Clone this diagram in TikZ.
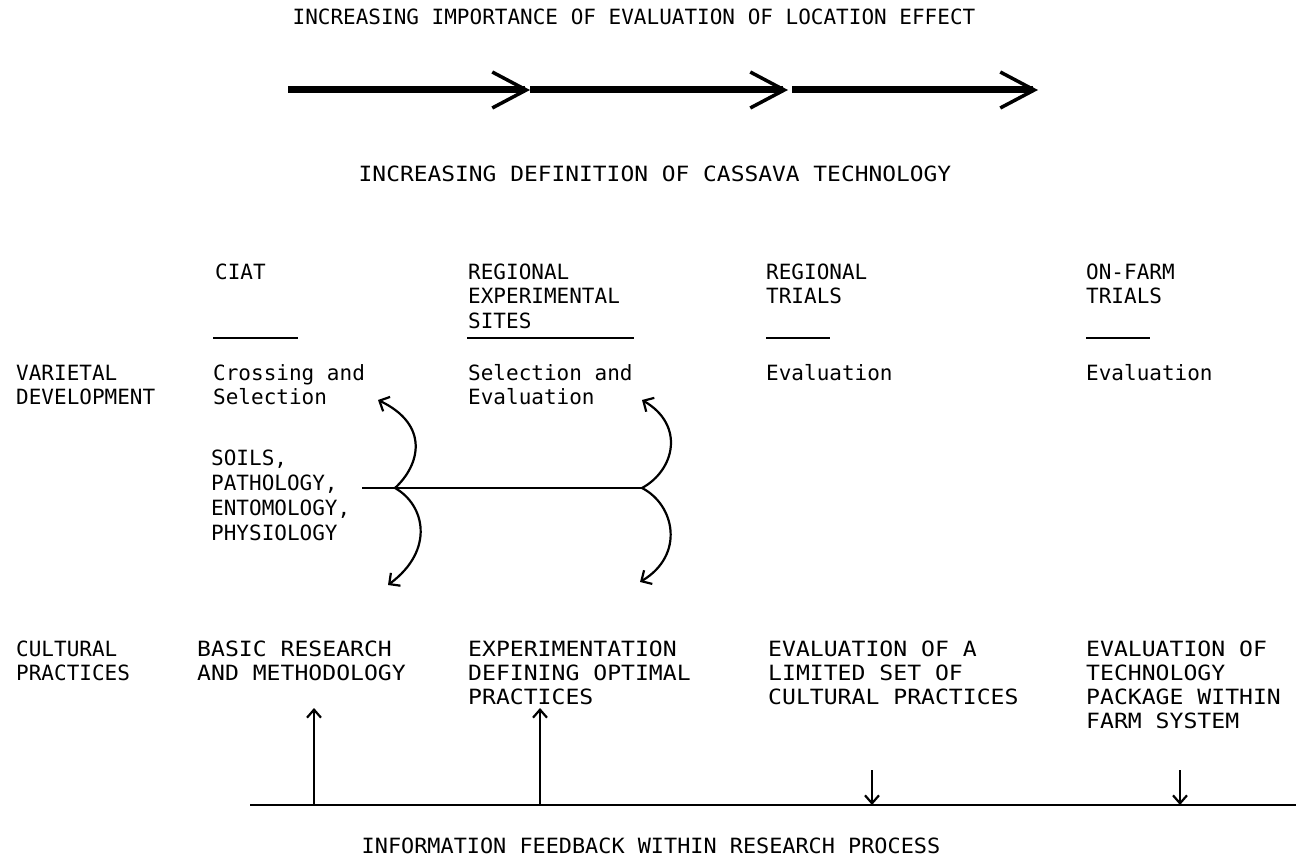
\documentclass[tikz,border=0pt]{standalone}
\usepackage{fontspec}
\setmainfont{DejaVu Sans Mono}
\newfontfamily\stretchA[FakeStretch=1.09]{DejaVu Sans Mono}
\newfontfamily\stretchB[FakeStretch=1.10]{DejaVu Sans Mono}
\newfontfamily\stretchC[FakeStretch=1.04]{DejaVu Sans Mono}
\usetikzlibrary{arrows.meta}
\begin{document}
\begin{tikzpicture}[x=1pt,y=-1pt,
  txt/.style={anchor=north west, align=left, inner sep=0pt, font=\fontsize{21}{24}\selectfont},
  hdr/.style={anchor=north west, align=left, inner sep=0pt, font=\fontsize{21}{24.5}\selectfont},
  disc/.style={anchor=north west, align=left, inner sep=0pt, font=\fontsize{21}{25}\selectfont},
  low/.style={anchor=north west, align=left, inner sep=0pt, font=\stretchB\fontsize{21}{24}\selectfont},
  ttl/.style={anchor=north, inner sep=0pt, font=\fontsize{21}{24}\selectfont},
  ttlw/.style={anchor=north, inner sep=0pt, font=\stretchA\fontsize{21}{24}\selectfont},
  ttlb/.style={anchor=north, inner sep=0pt, font=\stretchC\fontsize{21}{24}\selectfont},
  bigarrow/.style={line width=7pt, -{Straight Barb[length=34pt,width=36pt,line width=3.5pt]}},
  rule/.style={line width=1.5pt},
  link/.style={line width=2.2pt},
  curvearrow/.style={line width=2.2pt, -{Straight Barb[length=8pt,width=16pt,line width=2.2pt]}},
  fbarrow/.style={line width=2.2pt, -{Straight Barb[length=8pt,width=14pt,line width=2.2pt]}}]
\useasboundingbox (0,0) rectangle (1296,866);

% titles
\node[ttl] (t1) at (634,9) {INCREASING IMPORTANCE OF EVALUATION OF LOCATION EFFECT};
\node[ttlw] (t2) at (655,166) {INCREASING DEFINITION OF CASSAVA TECHNOLOGY};

% big arrow
\coordinate (a0) at (288,90);
\coordinate (a1) at (530,90);
\coordinate (a1b) at (530,90);
\coordinate (a2) at (788,90);
\coordinate (a2b) at (792,90);
\coordinate (a3) at (1038,90);
\draw[bigarrow] (a0) -- (a1);
\draw[bigarrow] (a1b) -- (a2);
\draw[bigarrow] (a2b) -- (a3);

% column headers
\node[hdr] (h1) at (215,263.5) {CIAT};
\node[hdr] (h2) at (468,263.5) {REGIONAL\\EXPERIMENTAL\\SITES};
\node[hdr] (h3) at (766,263.5) {REGIONAL\\TRIALS};
\node[hdr] (h4) at (1086,263.5) {ON-FARM\\TRIALS};
\coordinate (u1a) at (213,338); \coordinate (u1b) at (298,338);
\coordinate (u2a) at (467,338); \coordinate (u2b) at (634,338);
\coordinate (u3a) at (766,338); \coordinate (u3b) at (830,338);
\coordinate (u4a) at (1086,338); \coordinate (u4b) at (1150,338);
\draw[rule] (u1a) -- (u1b);
\draw[rule] (u2a) -- (u2b);
\draw[rule] (u3a) -- (u3b);
\draw[rule] (u4a) -- (u4b);

% varietal development row
\node[txt] (r1) at (16,364.5) {VARIETAL\\DEVELOPMENT};
\node[txt] (v1) at (213,364.5) {Crossing and\\Selection};
\node[txt] (v2) at (468,364.5) {Selection and\\Evaluation};
\node[txt] (v3) at (766,364.5) {Evaluation};
\node[txt] (v4) at (1086,364.5) {Evaluation};
\node[disc] (dsc) at (211,450) {SOILS,\\PATHOLOGY,\\ENTOMOLOGY,\\PHYSIOLOGY};

% links
\coordinate (m0) at (362,488);
\coordinate (j1) at (395,488);
\coordinate (j2) at (642,488);
\coordinate (e1u) at (378,400);
\coordinate (e1d) at (388,585);
\coordinate (e2u) at (642,400);
\coordinate (e2d) at (640,582);
\draw[link] (m0) -- (j2);
\draw[curvearrow] (j1) .. controls (420,465) and (430,425) .. (e1u);
\draw[curvearrow] (j1) .. controls (425,505) and (435,550) .. (e1d);
\draw[curvearrow] (j2) .. controls (675,470) and (685,425) .. (e2u);
\draw[curvearrow] (j2) .. controls (675,505) and (685,555) .. (e2d);

% cultural practices row
\node[txt] (r2) at (16,640.5) {CULTURAL\\PRACTICES};
\node[low] (c1) at (197,640.5) {BASIC RESEARCH\\AND METHODOLOGY};
\node[low] (c2) at (468,640.5) {EXPERIMENTATION\\DEFINING OPTIMAL\\PRACTICES};
\node[low] (c3) at (768,640.5) {EVALUATION OF A\\LIMITED SET OF\\CULTURAL PRACTICES};
\node[low] (c4) at (1086,640.5) {EVALUATION OF\\TECHNOLOGY\\PACKAGE WITHIN\\FARM SYSTEM};

% feedback line
\coordinate (f0) at (250,805);
\coordinate (f1) at (1296,805);
\draw[link] (f0) -- (f1);
\coordinate (p1) at (314,805); \coordinate (q1) at (314,708);
\coordinate (p2) at (540,805); \coordinate (q2) at (540,708);
\coordinate (p3) at (872,770); \coordinate (q3) at (872,805);
\coordinate (p4) at (1180,770); \coordinate (q4) at (1180,805);
\draw[fbarrow] (p1) -- (q1);
\draw[fbarrow] (p2) -- (q2);
\draw[fbarrow] (p3) -- (q3);
\draw[fbarrow] (p4) -- (q4);
\node[ttlb] (fb) at (651,838) {INFORMATION FEEDBACK WITHIN RESEARCH PROCESS};
\end{tikzpicture}
\end{document}
